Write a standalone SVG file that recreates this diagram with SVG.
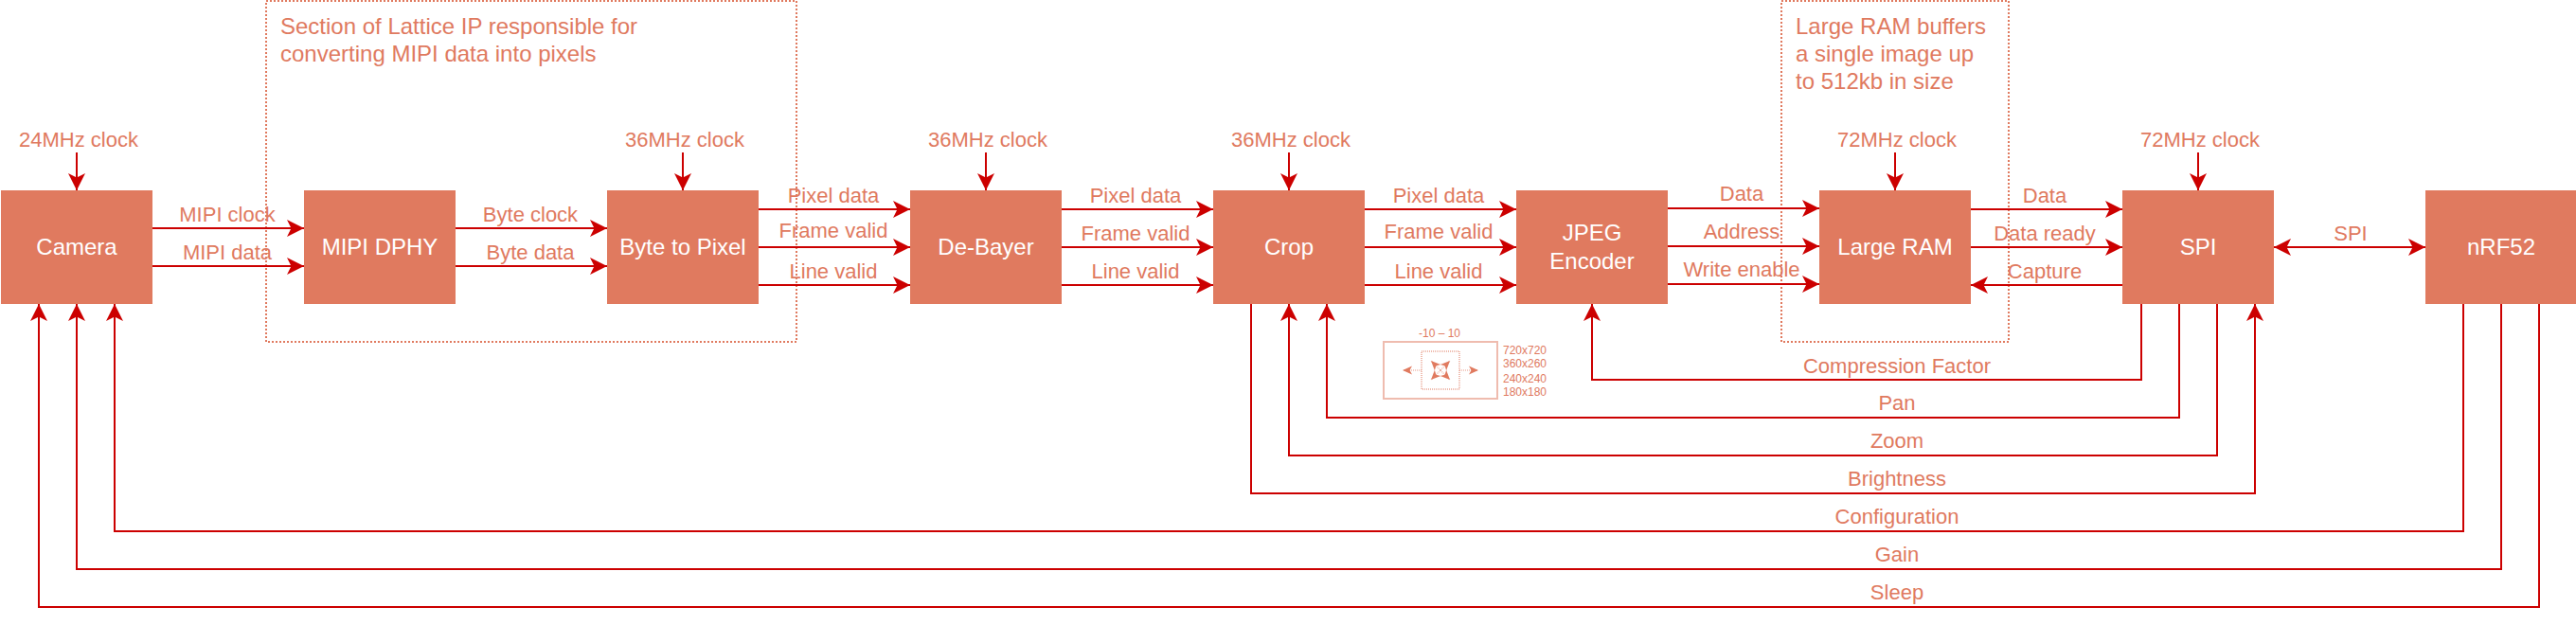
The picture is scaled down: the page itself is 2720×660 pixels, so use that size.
<svg xmlns="http://www.w3.org/2000/svg" width="2720" height="660" viewBox="0 0 2720 660">
<style>
text{font-family:"Liberation Sans",Arial,Helvetica,sans-serif;fill:#E07A5F;font-size:22px}
.m{text-anchor:middle}
.n rect{fill:#E07A5F}
.n text{fill:#fff;font-size:24px;text-anchor:middle}
.note{font-size:24px}
.box{fill:none;stroke:#E07A5F;stroke-width:2;stroke-dasharray:2 2}
.c path{fill:none;stroke:#CC0000;stroke-width:2;marker-end:url(#a)}
.c path.b{marker-start:url(#s)}
.s{font-size:12px}
.z{fill:none;stroke:#E07A5F;stroke-opacity:.5;stroke-width:2}
.zd{stroke-dasharray:1 1}
.za{fill:none;stroke:#E07A5F;stroke-opacity:.5;stroke-width:1.500;stroke-dasharray:1 1;marker-end:url(#ma)}
</style>
<defs>
<marker id="a" markerUnits="userSpaceOnUse" markerWidth="20" markerHeight="20" refX="18" refY="10" orient="auto" viewBox="0 0 20 20"><path d="M0 1L18 10L0 19L4.500 10Z" fill="#CC0000"/></marker>
<marker id="s" markerUnits="userSpaceOnUse" markerWidth="20" markerHeight="20" refX="2" refY="10" orient="auto" viewBox="0 0 20 20"><path d="M20 1L2 10L20 19L15.500 10Z" fill="#CC0000"/></marker>
<marker id="ma" markerUnits="userSpaceOnUse" markerWidth="12" markerHeight="12" refX="10" refY="6" orient="auto" viewBox="0 0 12 12"><path d="M0 1.500L10 6L0 10.500L2.500 6Z" fill="#E07A5F"/></marker>
</defs>

<g id="lattice-region"><rect class="box" x="281" y="1" width="560" height="360"/><text class="note" x="296" y="36">Section of Lattice IP responsible for</text><text class="note" x="296" y="65">converting MIPI data into pixels</text></g>
<g id="ram-region"><rect class="box" x="1881" y="1" width="240" height="360"/><text class="note" x="1896" y="36">Large RAM buffers</text><text class="note" x="1896" y="65">a single image up</text><text class="note" x="1896" y="94">to 512kb in size</text></g>

<g id="camera" class="n"><rect x="1" y="201" width="160" height="120"/><text x="81" y="269">Camera</text></g>
<g id="mipi-dphy" class="n"><rect x="321" y="201" width="160" height="120"/><text x="401" y="269">MIPI DPHY</text></g>
<g id="byte-to-pixel" class="n"><rect x="641" y="201" width="160" height="120"/><text x="721" y="269">Byte to Pixel</text></g>
<g id="de-bayer" class="n"><rect x="961" y="201" width="160" height="120"/><text x="1041" y="269">De-Bayer</text></g>
<g id="crop" class="n"><rect x="1281" y="201" width="160" height="120"/><text x="1361" y="269">Crop</text></g>
<g id="jpeg-encoder" class="n"><rect x="1601" y="201" width="160" height="120"/><text x="1681" y="254">JPEG</text><text x="1681" y="284">Encoder</text></g>
<g id="large-ram" class="n"><rect x="1921" y="201" width="160" height="120"/><text x="2001" y="269">Large RAM</text></g>
<g id="spi" class="n"><rect x="2241" y="201" width="160" height="120"/><text x="2321" y="269">SPI</text></g>
<g id="nrf52" class="n"><rect x="2561" y="201" width="160" height="120"/><text x="2641" y="269">nRF52</text></g>

<g id="connectors" class="c">
<path d="M81 161V201"/><path d="M721 161V201"/><path d="M1041 161V201"/><path d="M1361 161V201"/><path d="M2001 161V201"/><path d="M2321 161V201"/>
<path d="M161 241H321"/><path d="M161 281H321"/><path d="M481 241H641"/><path d="M481 281H641"/>
<path d="M801 221H961"/><path d="M801 261H961"/><path d="M801 301H961"/>
<path d="M1121 221H1281"/><path d="M1121 261H1281"/><path d="M1121 301H1281"/>
<path d="M1441 221H1601"/><path d="M1441 261H1601"/><path d="M1441 301H1601"/>
<path d="M1761 220H1921"/><path d="M1761 260H1921"/><path d="M1761 300H1921"/>
<path d="M2081 221H2241"/><path d="M2081 261H2241"/><path d="M2241 301H2081"/>
<path class="b" d="M2401 261H2561"/>
<path d="M2261 321V401H1681V321"/>
<path d="M2301 321V441H1401V321"/>
<path d="M2341 321V481H1361V321"/>
<path d="M1321 321V521H2381V321"/>
<path d="M2601 321V561H121V321"/>
<path d="M2641 321V601H81V321"/>
<path d="M2681 321V641H41V321"/>
</g>

<g id="labels">
<text class="m" x="83" y="155">24MHz clock</text><text class="m" x="723" y="155">36MHz clock</text><text class="m" x="1043" y="155">36MHz clock</text><text class="m" x="1363" y="155">36MHz clock</text><text class="m" x="2003" y="155">72MHz clock</text><text class="m" x="2323" y="155">72MHz clock</text>
<text class="m" x="240" y="234">MIPI clock</text><text class="m" x="240" y="274">MIPI data</text><text class="m" x="560" y="234">Byte clock</text><text class="m" x="560" y="274">Byte data</text>
<text class="m" x="880" y="214">Pixel data</text><text class="m" x="880" y="251">Frame valid</text><text class="m" x="880" y="294">Line valid</text>
<text class="m" x="1199" y="214">Pixel data</text><text class="m" x="1199" y="254">Frame valid</text><text class="m" x="1199" y="294">Line valid</text>
<text class="m" x="1519" y="214">Pixel data</text><text class="m" x="1519" y="252">Frame valid</text><text class="m" x="1519" y="294">Line valid</text>
<text class="m" x="1839" y="212">Data</text><text class="m" x="1839" y="252">Address</text><text class="m" x="1839" y="292">Write enable</text>
<text class="m" x="2159" y="214">Data</text><text class="m" x="2159" y="254">Data ready</text><text class="m" x="2159" y="294">Capture</text>
<text class="m" x="2482" y="254">SPI</text>
<text class="m" x="2003" y="394">Compression Factor</text><text class="m" x="2003" y="433">Pan</text><text class="m" x="2003" y="473">Zoom</text><text class="m" x="2003" y="513">Brightness</text><text class="m" x="2003" y="553">Configuration</text><text class="m" x="2003" y="593">Gain</text><text class="m" x="2003" y="633">Sleep</text>
</g>

<g id="crop-inset">
<rect class="z" x="1461" y="361" width="120" height="60"/>
<rect class="z zd" x="1501" y="371" width="40" height="40"/>
<path class="za" d="M1501 391H1481"/><path class="za" d="M1541 391H1561"/>
<path class="za" d="M1521 391L1511 381"/><path class="za" d="M1521 391L1531 381"/><path class="za" d="M1521 391L1511 401"/><path class="za" d="M1521 391L1531 401"/>
<text class="s m" x="1520" y="356">-10 – 10</text>
<text class="s" x="1587" y="374">720x720</text><text class="s" x="1587" y="388">360x260</text><text class="s" x="1587" y="404">240x240</text><text class="s" x="1587" y="418">180x180</text>
</g>
</svg>
